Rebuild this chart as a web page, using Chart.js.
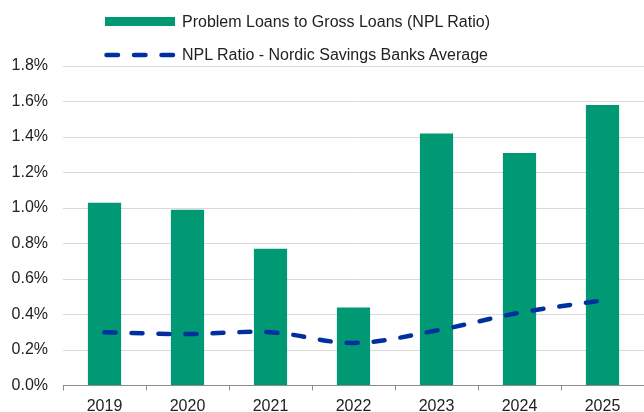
<!DOCTYPE html>
<html>
<head>
<meta charset="utf-8">
<script src="https://cdn.jsdelivr.net/npm/chart.js@4"></script>
<style>
  html, body { margin: 0; padding: 0; background: #fff; overflow: hidden; }
  #wrap { position: relative; width: 644px; height: 412px; }
  #legend { position: absolute; left: 104px; top: 11px; font: 16px "Liberation Sans", Arial, sans-serif; color: #222; }
  .item { display: flex; align-items: center; height: 22px; margin-bottom: 11px; }
  .item svg { margin-right: 6px; }
</style>
</head>
<body>
<div id="wrap">
  <canvas id="nplChart" width="644" height="412"></canvas>
  <div id="legend">
    <div class="item">
      <svg width="72" height="12"><rect x="1" y="1" width="70" height="9" fill="#009973"/></svg>
      <span>Problem Loans to Gross Loans (NPL Ratio)</span>
    </div>
    <div class="item">
      <svg width="72" height="12"><line x1="2.5" y1="6" x2="70" y2="6" stroke="#0030a0" stroke-width="4.5" stroke-linecap="round" stroke-dasharray="11.5 16"/></svg>
      <span>NPL Ratio - Nordic Savings Banks Average</span>
    </div>
  </div>
</div>
<script>
// Datos
const years = ["2019", "2020", "2021", "2022", "2023", "2024", "2025"];
const nplRatio = [1.03, 0.99, 0.77, 0.44, 1.42, 1.31, 1.58];
const nordicAverage = [0.30, 0.29, 0.30, 0.24, 0.31, 0.41, 0.48];
const yTicks = [0, 0.2, 0.4, 0.6, 0.8, 1.0, 1.2, 1.4, 1.6, 1.8];

const font = { family: '"Liberation Sans", Arial, sans-serif', size: 16 };

const ctx = document.getElementById('nplChart').getContext('2d');
new Chart(ctx, {
    data: {
        labels: years,
        datasets: [
            {
                type: 'line',
                label: 'NPL Ratio - Nordic Savings Banks Average',
                data: nordicAverage,
                borderColor: '#0030a0',
                borderWidth: 4.5,
                borderDash: [11, 16],
                borderCapStyle: 'round',
                tension: 0.35,
                pointRadius: 0,
                fill: false
            },
            {
                type: 'bar',
                label: 'Problem Loans to Gross Loans (NPL Ratio)',
                data: nplRatio,
                backgroundColor: '#009973',
                categoryPercentage: 1,
                barPercentage: 0.4
            }
        ]
    },
    options: {
        responsive: false,
        animation: false,
        layout: { padding: { top: 66, right: 0, left: 0, bottom: 0 } },
        plugins: {
            legend: { display: false },
            tooltip: { enabled: false }
        },
        scales: {
            x: {
                afterFit: axis => { axis.height = 26.5; },
                grid: { offset: true, drawOnChartArea: false, drawTicks: true, tickLength: 5, color: '#8c8c8c' },
                border: { color: '#8c8c8c' },
                ticks: { color: '#222', font: font, padding: 6 }
            },
            y: {
                min: 0,
                max: 1.8,
                afterFit: axis => { axis.width = 63; },
                afterBuildTicks: axis => { axis.ticks = yTicks.map(v => ({ value: v })); },
                grid: { color: '#d9d9d9', drawTicks: false },
                border: { display: false },
                ticks: {
                    color: '#222',
                    font: font,
                    padding: 15,
                    callback: v => v.toFixed(1) + '%'
                }
            }
        }
    }
});
</script>
</body>
</html>
